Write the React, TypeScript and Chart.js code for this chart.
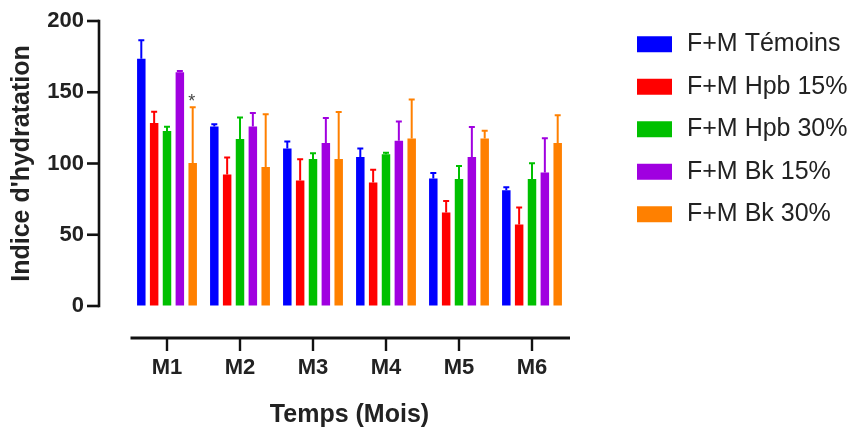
import React, { useEffect, useRef } from 'react';
import { Chart, registerables } from 'chart.js';

Chart.register(...registerables);

const FONT = '"Liberation Sans", Arial, Helvetica, sans-serif';

const CATEGORIES = ['M1', 'M2', 'M3', 'M4', 'M5', 'M6'];
const SERIES_NAMES = ['F+M Témoins', 'F+M Hpb 15%', 'F+M Hpb 30%', 'F+M Bk 15%', 'F+M Bk 30%'];

const TEMOINS = [173.5, 126, 110.5, 104.6, 89.4, 81.3];
const TEMOINS_ERR = [13, 1.5, 5, 6, 4, 2];
const HPB15 = [128.4, 92.2, 88, 86.6, 65.6, 57.2];
const HPB15_ERR = [8, 12, 15, 9, 8, 12];
const HPB30 = [122.8, 117.2, 103.2, 106.5, 89.2, 89.2];
const HPB30_ERR = [3, 15, 4, 1, 9, 11];
const BK15 = [164, 125.9, 114.4, 116, 104.6, 93.7];
const BK15_ERR = [1, 9.5, 17.5, 13.5, 21, 24];
const BK30 = [100.4, 97.6, 103.2, 117.5, 117.5, 114.4];
const BK30_ERR = [39, 37, 33, 27.5, 5.5, 19.5];

const Y_TICKS = [0, 50, 100, 150, 200];
const SIGNIF = [{ series: 4, index: 0, text: '*' }];

const COLORS = ['#0000FF', '#FF0000', '#00C000', '#A000E0', '#FF8000'];

const SERIES_VALUES = [TEMOINS, HPB15, HPB30, BK15, BK30];
const SERIES_ERRS = [TEMOINS_ERR, HPB15_ERR, HPB30_ERR, BK15_ERR, BK30_ERR];

const errorBarsPlugin = {
  id: 'errorBars',
  afterDatasetsDraw(chart: any) {
    const { ctx } = chart;
    const y = chart.scales.y;
    ctx.save();
    chart.data.datasets.forEach((ds: any, i: number) => {
      const meta = chart.getDatasetMeta(i);
      meta.data.forEach((el: any, j: number) => {
        const top = y.getPixelForValue(ds.data[j] + ds.errors[j]);
        ctx.strokeStyle = ds.backgroundColor;
        ctx.lineWidth = 2;
        ctx.beginPath();
        ctx.moveTo(el.x, el.y);
        ctx.lineTo(el.x, top);
        ctx.moveTo(el.x - 3, top);
        ctx.lineTo(el.x + 3, top);
        ctx.stroke();
      });
    });
    SIGNIF.forEach((s) => {
      const ds: any = chart.data.datasets[s.series];
      const el: any = chart.getDatasetMeta(s.series).data[s.index];
      const top = y.getPixelForValue(ds.data[s.index] + ds.errors[s.index]);
      ctx.fillStyle = '#444';
      ctx.font = `18px ${FONT}`;
      ctx.textAlign = 'center';
      ctx.textBaseline = 'alphabetic';
      ctx.fillText(s.text, el.x - 1, top);
    });
    ctx.restore();
  },
};

const axesPlugin = {
  id: 'detachedAxes',
  afterDraw(chart: any) {
    const { ctx, chartArea } = chart;
    const x = chart.scales.x;
    const y = chart.scales.y;
    ctx.save();
    ctx.strokeStyle = '#111';
    const yAxisX = chartArea.left - 31.5;
    ctx.lineWidth = 2.6;
    ctx.beginPath();
    ctx.moveTo(yAxisX, y.getPixelForValue(Y_TICKS[Y_TICKS.length - 1]) - 1.3);
    ctx.lineTo(yAxisX, y.getPixelForValue(Y_TICKS[0]) + 1.3);
    ctx.stroke();
    Y_TICKS.forEach((v) => {
      const py = y.getPixelForValue(v);
      ctx.beginPath();
      ctx.moveTo(yAxisX - 12, py);
      ctx.lineTo(yAxisX, py);
      ctx.stroke();
    });
    const xAxisY = chartArea.bottom + 32;
    ctx.lineWidth = 3;
    ctx.beginPath();
    ctx.moveTo(chartArea.left, xAxisY);
    ctx.lineTo(chartArea.right + 1.5, xAxisY);
    ctx.stroke();
    ctx.lineWidth = 2.4;
    CATEGORIES.forEach((_, i) => {
      const px = x.getPixelForTick(i);
      ctx.beginPath();
      ctx.moveTo(px, xAxisY);
      ctx.lineTo(px, xAxisY + 13);
      ctx.stroke();
    });
    ctx.restore();
  },
};

export default function App() {
  const ref = useRef<HTMLCanvasElement>(null);

  useEffect(() => {
    if (!ref.current) return;
    const defaultGen = (Chart.defaults.plugins.legend.labels as any).generateLabels;
    const chart = new Chart(ref.current, {
      type: 'bar',
      data: {
        labels: CATEGORIES,
        datasets: SERIES_NAMES.map((name, i) => ({
          label: name,
          data: SERIES_VALUES[i],
          errors: SERIES_ERRS[i],
          backgroundColor: COLORS[i],
          borderWidth: 0,
          categoryPercentage: 0.88,
          barPercentage: 0.66,
          xAxisID: 'x',
          yAxisID: 'y',
        })) as any,
      },
      options: {
        responsive: false,
        devicePixelRatio: 1,
        animation: false,
        layout: { padding: { left: 0, top: 14.2, right: 3, bottom: 0 } },
        plugins: {
          legend: {
            position: 'right',
            align: 'start',
            maxWidth: 236,
            labels: {
              boxWidth: 40,
              boxHeight: 21,
              padding: 17.5,
              color: '#222',
              font: { family: FONT, size: 25 },
              generateLabels: (c: any) =>
                defaultGen(c).map((it: any) => ({ ...it, lineWidth: 5, strokeStyle: '#ffffff' })),
            },
          } as any,
          tooltip: { enabled: false },
        },
        scales: {
          x: {
            type: 'category',
            position: 'bottom',
            offset: true,
            border: { display: false },
            grid: { display: true, drawOnChartArea: false, drawTicks: true, tickLength: 44.8, tickColor: 'rgba(0,0,0,0)' },
            ticks: { padding: 4, color: '#222', font: { family: FONT, size: 22, weight: 'bold' }, maxRotation: 0, autoSkip: false },
            title: { display: true, text: 'Temps (Mois)', color: '#222', font: { family: FONT, size: 25, weight: 'bold' }, padding: { top: 0, bottom: 0 } },
            afterFit: (s: any) => { s.height = 124; },
          },
          y: {
            type: 'linear',
            position: 'left',
            min: 0,
            max: 200,
            border: { display: false },
            grid: { display: true, drawOnChartArea: false, drawTicks: true, tickLength: 42.5, tickColor: 'rgba(0,0,0,0)' },
            ticks: { padding: 4, color: '#222', font: { family: FONT, size: 22, weight: 'bold' } },
            afterBuildTicks: (s: any) => { s.ticks = Y_TICKS.map((v) => ({ value: v })); },
            title: { display: true, text: "Indice d'hydratation", color: '#222', font: { family: FONT, size: 25, weight: 'bold' }, padding: { top: 7, bottom: 0 } },
            afterFit: (s: any) => { s.width = 130.5; },
          },
          x2: {
            type: 'linear',
            position: 'top',
            display: true,
            grid: { display: false },
            border: { display: false },
            ticks: { display: false },
            afterFit: (s: any) => { s.height = 6.8; },
          },
          y2: {
            type: 'linear',
            position: 'right',
            display: true,
            grid: { display: false },
            border: { display: false },
            ticks: { display: false },
            afterFit: (s: any) => { s.width = 48.5; },
          },
        } as any,
      },
      plugins: [errorBarsPlugin, axesPlugin],
    } as any);
    return () => chart.destroy();
  }, []);

  return (
    <div style={{ position: 'fixed', left: 0, top: 0, width: 856, height: 430, background: '#fff' }}>
      <canvas ref={ref} width={856} height={430} style={{ display: 'block', width: 856, height: 430 }} />
    </div>
  );
}
